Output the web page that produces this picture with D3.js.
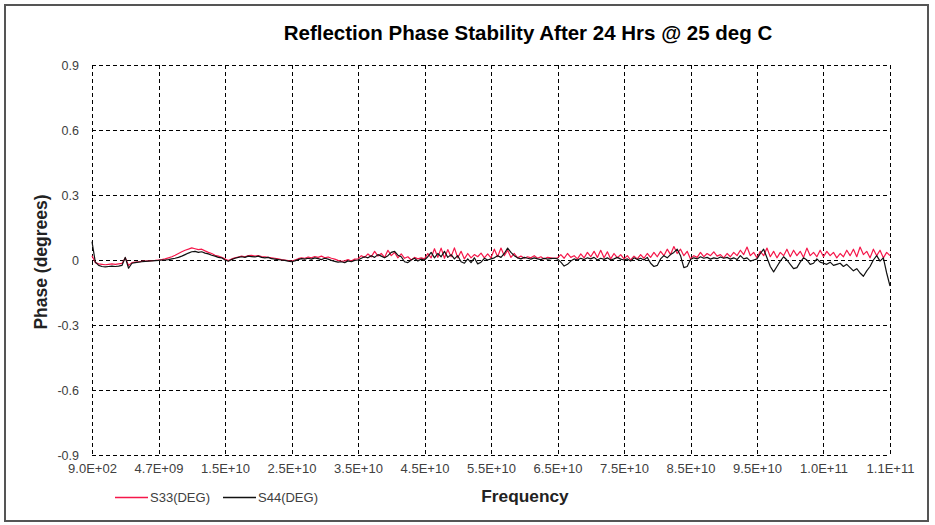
<!DOCTYPE html>
<html><head><meta charset="utf-8">
<script src="https://cdn.jsdelivr.net/npm/d3@7"></script>
<style>body{margin:0;background:#fff}</style>
</head><body><svg id="c" width="935" height="525"></svg>
<script>
const title = "Reflection Phase Stability After 24 Hrs @ 25 deg C";
const xTickLabels = ["9.0E+02","4.7E+09","1.5E+10","2.5E+10","3.5E+10","4.5E+10","5.5E+10","6.5E+10","7.5E+10","8.5E+10","9.5E+10","1.0E+11","1.1E+11"];
const yTickValues = [-0.9,-0.6,-0.3,0,0.3,0.6,0.9];
const yTickLabels = ["-0.9","-0.6","-0.3","0","0.3","0.6","0.9"];
const seriesNames = ["S33(DEG)","S44(DEG)"];
const s33 = [
 0.02,-0.012,-0.018,-0.02,-0.022,-0.02,-0.018,-0.02,-0.018,-0.016,0.01,-0.025,-0.012,-0.01,-0.008,-0.006,-0.005,-0.004,-0.003,-0.002,
 0.0,0.002,0.005,0.01,0.015,0.022,0.03,0.038,0.045,0.05,0.056,0.052,0.048,0.05,0.042,0.035,0.03,0.022,0.018,0.012,
 0.005,-0.003,0.005,0.01,0.014,0.018,0.015,0.02,0.022,0.018,0.02,0.016,0.014,0.012,0.01,0.008,0.005,0.002,0.0,-0.003,
 -0.006,0.0,0.006,0.01,0.008,0.014,0.01,0.016,0.012,0.018,0.01,0.014,0.008,0.004,-0.002,-0.006,-0.004,0.002,-0.005,0.004,
 0.005,0.02,0.012,0.028,0.015,0.04,0.018,0.03,0.012,0.045,0.02,0.035,0.01,0.028,0.008,0.015,0.0,0.012,0.005,0.01,
 0.005,0.03,0.01,0.052,0.012,0.055,0.008,0.048,0.015,0.056,0.01,0.04,0.005,0.03,0.01,0.025,0.015,0.032,0.01,0.028,
 0.01,0.05,0.015,0.055,0.02,0.045,0.012,0.03,0.01,0.018,0.008,0.015,0.01,0.02,0.008,0.015,0.005,0.012,0.01,0.008,
 0.01,0.025,0.008,0.03,0.012,0.02,0.005,0.028,0.01,0.035,0.015,0.04,0.012,0.045,0.01,0.038,0.005,0.03,0.01,0.025,
 0.005,0.02,0.0,0.018,0.005,0.025,0.008,0.03,0.012,0.035,0.015,0.04,0.02,0.05,0.025,0.062,0.03,0.05,0.02,0.04,
 0.005,0.02,0.012,0.035,0.015,0.03,0.02,0.038,0.018,0.025,0.01,0.03,0.015,0.035,0.02,0.045,0.025,0.06,0.02,0.035,
 0.01,0.04,0.02,0.055,0.015,0.04,0.01,0.035,0.02,0.05,0.015,0.045,0.02,0.04,0.012,0.055,0.02,0.035,0.015,0.045,
 0.015,0.04,0.02,0.035,0.01,0.03,0.015,0.045,0.02,0.05,0.015,0.06,0.025,0.04,0.01,0.05,0.02,0.045,0.01,0.035,0.02
];
const s44 = [
 0.085,-0.01,-0.025,-0.03,-0.032,-0.03,-0.028,-0.03,-0.028,-0.025,0.012,-0.038,-0.015,-0.012,-0.01,-0.008,-0.006,-0.005,-0.004,-0.003,
 -0.002,0.0,0.0,0.002,0.005,0.008,0.012,0.018,0.025,0.032,0.038,0.04,0.035,0.038,0.032,0.028,0.022,0.018,0.012,0.01,
 0.0,-0.006,0.002,0.008,0.012,0.015,0.012,0.018,0.016,0.014,0.018,0.012,0.01,0.012,0.006,0.004,0.002,0.0,-0.002,-0.005,
 -0.008,-0.004,0.002,0.006,0.004,0.008,0.004,0.01,0.006,0.002,0.008,0.004,-0.002,-0.006,-0.01,-0.008,-0.012,-0.004,-0.008,-0.002,
 0.0,0.008,0.015,0.01,0.02,0.012,0.025,0.018,0.01,0.02,0.035,0.04,0.022,0.015,-0.008,-0.012,0.0,0.008,-0.005,0.004,
 0.0,0.015,0.035,0.01,0.03,0.015,0.04,0.012,0.025,0.005,0.02,-0.008,-0.015,0.005,-0.012,0.01,-0.018,-0.01,0.008,0.0,
 0.005,0.01,0.02,0.012,0.03,0.055,0.035,0.02,0.01,0.005,0.012,0.008,0.004,0.01,0.005,0.002,0.008,0.004,0.006,0.008,
 0.005,-0.01,-0.028,-0.02,-0.005,0.005,0.0,0.008,0.002,0.01,0.005,0.012,0.0,0.008,0.003,0.01,0.0,0.005,0.012,0.004,
 0.0,0.005,-0.005,0.01,0.002,0.008,0.0,0.012,-0.015,-0.03,-0.025,0.005,0.02,0.01,0.025,0.035,0.05,0.02,-0.035,-0.03,
 0.002,0.01,0.005,0.015,0.008,0.012,0.004,0.01,0.006,0.014,0.008,0.012,0.004,0.01,0.002,0.02,0.005,0.01,-0.005,0.0,
 0.005,0.03,0.05,0.01,-0.03,-0.055,-0.03,-0.005,0.015,0.0,-0.02,-0.04,-0.035,-0.01,0.01,0.0,-0.02,-0.015,0.005,-0.01,
 -0.015,-0.02,-0.01,-0.025,-0.02,-0.015,-0.03,-0.02,-0.035,-0.05,-0.04,-0.06,-0.075,-0.05,-0.03,0.0,0.02,-0.005,0.01,-0.06,-0.12
];

const svg = d3.select("#c");
const W = 935, H = 525;
const pLeft = 92, pRight = 890, pTop = 65, pBottom = 455;
const nPts = s33.length;
const step = (nPts - 1) / (xTickLabels.length - 1);
const FONT = "Liberation Sans, Arial, sans-serif";

svg.append("rect").attr("width", W).attr("height", H).attr("fill", "#fff");
svg.append("rect").attr("x", 5).attr("y", 5).attr("width", 923).attr("height", 516)
  .attr("fill", "#fff").attr("stroke", "#555").attr("stroke-width", 2);

const x = d3.scaleLinear().domain([0, nPts - 1]).range([pLeft, pRight]);
const y = d3.scaleLinear().domain([-0.9, 0.9]).range([pBottom, pTop]);

const dash = "4,3";
svg.append("g").selectAll("line").data(yTickValues).join("line")
  .attr("x1", pLeft).attr("x2", pRight)
  .attr("y1", d => Math.round(y(d)) + 0.5).attr("y2", d => Math.round(y(d)) + 0.5)
  .attr("stroke", "#000").attr("stroke-width", 1).attr("stroke-dasharray", dash);
const xTickIdx = xTickLabels.map((_, i) => i * step);
svg.append("g").selectAll("line").data(xTickIdx).join("line")
  .attr("x1", d => Math.round(x(d)) + 0.5).attr("x2", d => Math.round(x(d)) + 0.5)
  .attr("y1", pTop).attr("y2", pBottom)
  .attr("stroke", "#000").attr("stroke-width", 1).attr("stroke-dasharray", dash);

const yAxis = d3.axisLeft(y).tickValues(yTickValues).tickSize(0).tickPadding(13)
  .tickFormat((d, i) => yTickLabels[i]);
const gy = svg.append("g").attr("transform", `translate(${pLeft},0)`).call(yAxis);
gy.select(".domain").remove();
gy.selectAll("text").attr("font-family", FONT).attr("font-size", 12.5).attr("fill", "#404040");

const xAxis = d3.axisBottom(x).tickValues(xTickIdx).tickSize(0).tickPadding(8.5)
  .tickFormat((d, i) => xTickLabels[i]);
const gx = svg.append("g").attr("transform", `translate(0,${pBottom})`).call(xAxis);
gx.select(".domain").remove();
gx.selectAll("text").attr("font-family", FONT).attr("font-size", 13).attr("fill", "#404040");

const line = d3.line().x((d, i) => x(i)).y(d => y(d));
svg.append("path").datum(s33).attr("d", line).attr("fill", "none")
  .attr("stroke", "#f5174a").attr("stroke-width", 1.2).attr("stroke-linejoin", "round");
svg.append("path").datum(s44).attr("d", line).attr("fill", "none")
  .attr("stroke", "#111").attr("stroke-width", 1.2).attr("stroke-linejoin", "round");

svg.append("text").attr("x", 528).attr("y", 40).attr("text-anchor", "middle")
  .attr("font-family", FONT).attr("font-weight", "bold")
  .attr("font-size", 20.5).attr("fill", "#000").text(title);
svg.append("text").attr("transform", "translate(47,262) rotate(-90)").attr("text-anchor", "middle")
  .attr("font-family", FONT).attr("font-weight", "bold")
  .attr("font-size", 17.5).attr("fill", "#222").text("Phase (degrees)");
svg.append("text").attr("x", 525).attr("y", 502).attr("text-anchor", "middle")
  .attr("font-family", FONT).attr("font-weight", "bold")
  .attr("font-size", 17.3).attr("fill", "#222").text("Frequency");

const legColors = ["#f5174a", "#111"];
const legX = [115, 223];
seriesNames.forEach((n, i) => {
  svg.append("line").attr("x1", legX[i]).attr("x2", legX[i] + 33).attr("y1", 497.5).attr("y2", 497.5)
    .attr("stroke", legColors[i]).attr("stroke-width", 1.5);
  svg.append("text").attr("x", legX[i] + 35).attr("y", 502)
    .attr("font-family", FONT).attr("font-size", 13)
    .attr("fill", "#404040").text(n);
});
</script></body></html>
